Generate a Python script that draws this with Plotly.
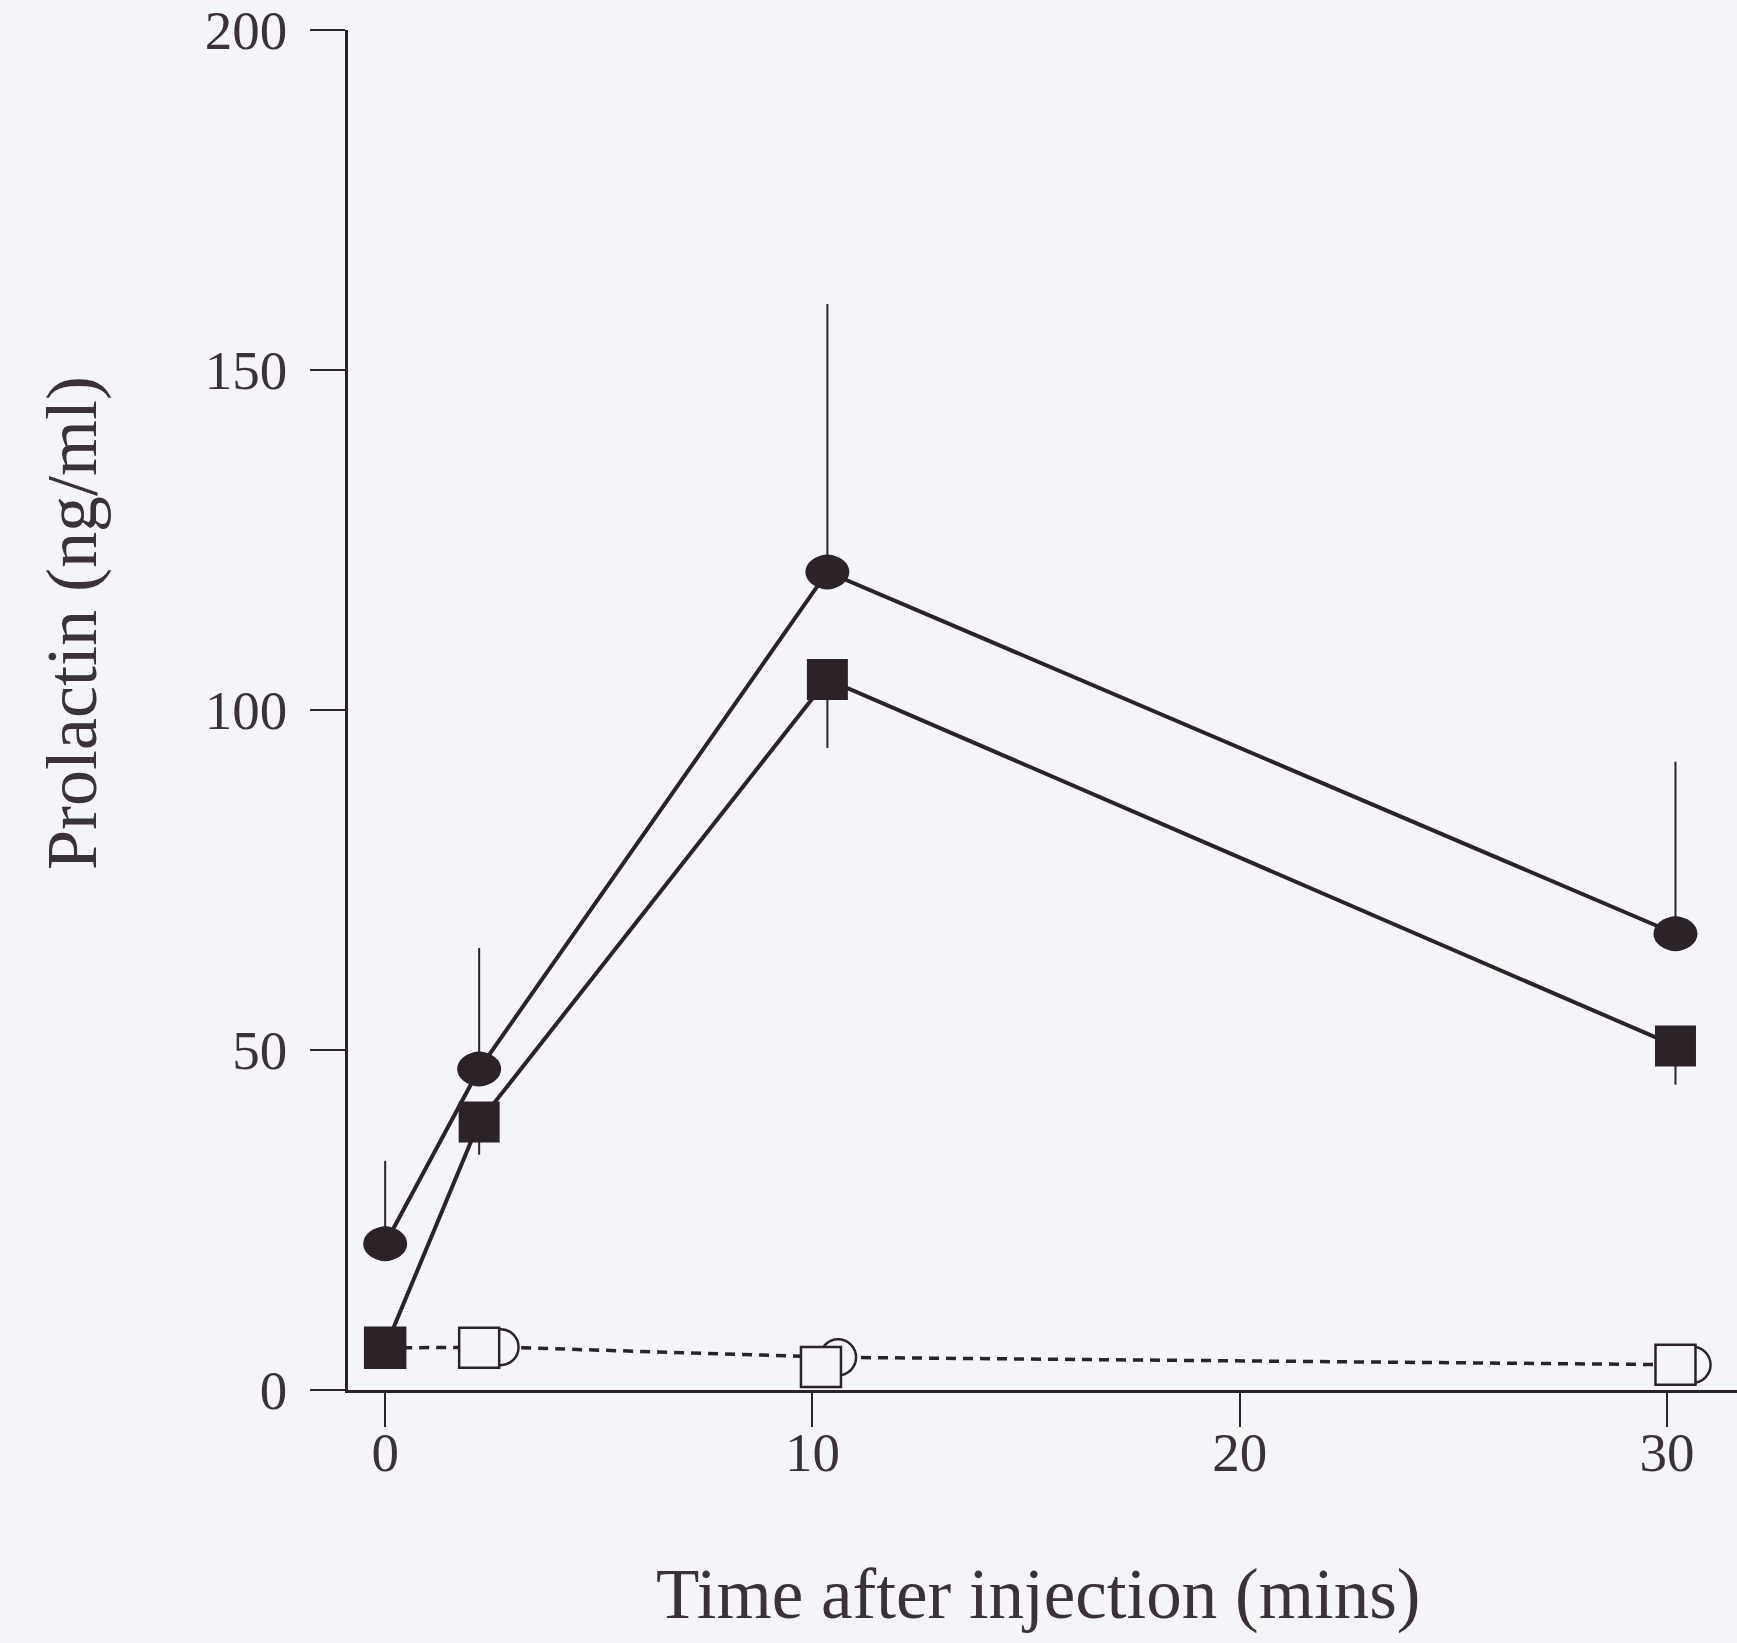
import plotly.graph_objects as go

# Data
filled_circle_x = [0, 2.2, 10.35, 30.2]
filled_circle_y = [21.5, 47.2, 120.3, 67.1]
filled_circle_err_up = [12.2, 17.8, 39.4, 25.3]

filled_square_x = [0, 2.2, 10.35, 30.2]
filled_square_y = [6.2, 39.4, 104.5, 50.6]
filled_square_err_down = [0, 4.8, 10.1, 5.7]

open_circle_x = [0, 2.7, 10.6, 30.6]
open_circle_y = [6.2, 6.3, 4.8, 3.7]

open_square_x = [0, 2.2, 10.2, 30.2]
open_square_y = [6.2, 6.2, 3.4, 3.7]

x_ticks = [0, 10, 20, 30]
y_ticks = [0, 50, 100, 150, 200]

x_title = "Time after injection (mins)"
y_title = "Prolactin (ng/ml)"

BG = "#f5f5f9"
INK = "#2b2327"
TXT = "#3a3236"
FONT = "Liberation Serif"

fig = go.Figure()

# open circles with dashed line
fig.add_trace(go.Scatter(
    x=open_circle_x, y=open_circle_y, mode="lines+markers",
    line=dict(color=INK, width=3.5, dash="10px,7px"),
    marker=dict(symbol="circle", size=36, color=BG, line=dict(color=INK, width=2.5)),
    cliponaxis=False, showlegend=False,
))
# open squares
fig.add_trace(go.Scatter(
    x=open_square_x, y=open_square_y, mode="markers",
    marker=dict(symbol="square", size=40, color=BG, line=dict(color=INK, width=2.5)),
    cliponaxis=False, showlegend=False,
))
# filled circles
fig.add_trace(go.Scatter(
    x=filled_circle_x, y=filled_circle_y, mode="lines+markers",
    line=dict(color=INK, width=4),
    marker=dict(symbol="circle", size=35, color=INK, line=dict(width=0)),
    error_y=dict(type="data", symmetric=False, array=filled_circle_err_up,
                 arrayminus=[0] * len(filled_circle_err_up), color=INK, thickness=2, width=0),
    cliponaxis=False, showlegend=False,
))
# filled squares
fig.add_trace(go.Scatter(
    x=filled_square_x, y=filled_square_y, mode="lines+markers",
    line=dict(color=INK, width=4),
    marker=dict(symbol="square", size=41, color=INK, line=dict(width=0)),
    error_y=dict(type="data", symmetric=False, array=[0] * len(filled_square_err_down),
                 arrayminus=filled_square_err_down, color=INK, thickness=2, width=0),
    cliponaxis=False, showlegend=False,
))

# widen the filled circles into ellipses (anchored at the data points, sized in pixels)
for cx, cy in zip(filled_circle_x, filled_circle_y):
    fig.add_shape(type="circle", xref="x", yref="y", xsizemode="pixel", ysizemode="pixel",
                  xanchor=cx, yanchor=cy, x0=-22, x1=22, y0=-17, y1=17,
                  fillcolor=INK, line=dict(width=0), layer="above")

fig.update_layout(
    width=1737, height=1643,
    margin=dict(l=348, r=0, t=30, b=253, autoexpand=False),
    paper_bgcolor=BG, plot_bgcolor=BG,
    font=dict(family=FONT, color=TXT),
    annotations=[
        dict(text=x_title, xref="paper", yref="paper", x=0.4968, y=-0.1507,
             xanchor="center", yanchor="middle", showarrow=False,
             font=dict(size=71, family=FONT, color=TXT)),
        dict(text=y_title, xref="paper", yref="paper", x=-0.1987, y=0.564,
             xanchor="center", yanchor="middle", textangle=-90, showarrow=False,
             font=dict(size=72, family=FONT, color=TXT)),
    ],
)
fig.update_xaxes(
    range=[-0.87, 31.64], showgrid=False, zeroline=False,
    showline=True, linecolor=INK, linewidth=2.5,
    ticks="outside", ticklen=34, tickwidth=2, tickcolor=INK,
    tickvals=x_ticks, ticktext=[str(v) for v in x_ticks],
    tickfont=dict(size=55, family=FONT), ticklabelstandoff=-22,
)
fig.update_yaxes(
    range=[0, 200], showgrid=False, zeroline=False,
    showline=True, linecolor=INK, linewidth=2.5,
    ticks="outside", ticklen=35, tickwidth=2, tickcolor=INK,
    tickvals=y_ticks, ticktext=[str(v) for v in y_ticks],
    tickfont=dict(size=55, family=FONT), ticklabelstandoff=12,
)

fig.write_html("out.html")
